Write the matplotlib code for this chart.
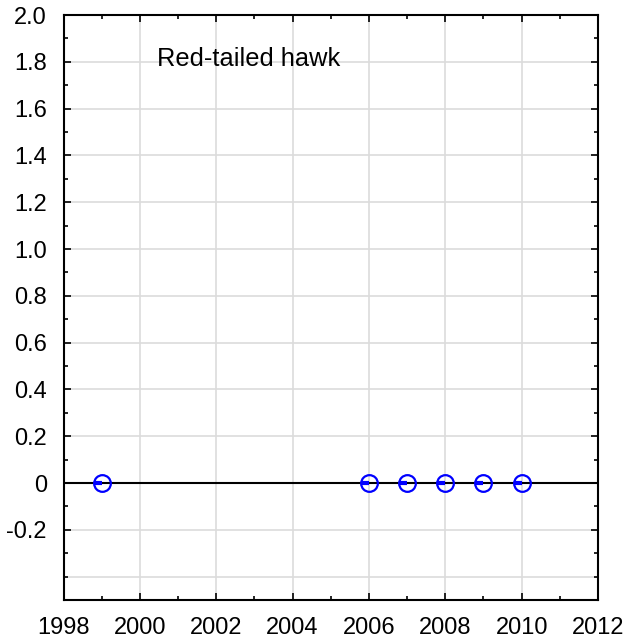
import matplotlib.pyplot as plt
from matplotlib.ticker import FixedLocator, MultipleLocator

plt.rcParams['font.family'] = ['Liberation Sans', 'DejaVu Sans']

years = [1999, 2006, 2007, 2008, 2009, 2010]
values = [0, 0, 0, 0, 0, 0]
species = 'Red-tailed hawk'

xticks = list(range(1998, 2013, 2))
yticks = [-0.2, 0, 0.2, 0.4, 0.6, 0.8, 1.0, 1.2, 1.4, 1.6, 1.8, 2.0]
ytick_labels = ['-0.2', '0', '0.2', '0.4', '0.6', '0.8', '1.0', '1.2', '1.4', '1.6', '1.8', '2.0']
ygrid = [-0.4, -0.2, 0.2, 0.4, 0.6, 0.8, 1.0, 1.2, 1.4, 1.6, 1.8]

fig = plt.figure(figsize=(6.31, 6.44), dpi=100)
ax = fig.add_axes([63.5 / 631, 44 / 644, 534.5 / 631, 585 / 644])

ax.set_xlim(1998, 2012)
ax.set_ylim(-0.5, 2.0)

# grid lines drawn by hand so -0.4 gets one but no label
for x in xticks[1:-1]:
    ax.axvline(x, color='#dcdcdc', lw=1.2, zorder=0)
for y in ygrid:
    ax.axhline(y, color='#dcdcdc', lw=1.2, zorder=0)
ax.axhline(0, color='black', lw=1.5, zorder=1)

ax.plot(years, values, linestyle='none', marker='o', markersize=12,
        markerfacecolor='none', markeredgecolor='#0000ff', markeredgewidth=1.6, zorder=3)
ax.plot(years, values, linestyle='none', marker=0, markersize=6,
        markeredgecolor='#0000ff', markeredgewidth=3, zorder=4)

ax.text(2000.45, 1.81, species, fontsize=18.3, ha='left', va='center')

ax.xaxis.set_major_locator(FixedLocator(xticks))
ax.xaxis.set_minor_locator(MultipleLocator(1))
ax.yaxis.set_major_locator(FixedLocator(yticks))
ax.set_yticklabels(ytick_labels)
ax.yaxis.set_minor_locator(MultipleLocator(0.1))
ax.tick_params(which='both', direction='in', top=True, right=True, labelsize=17, width=1.2)
ax.tick_params(which='major', length=5)
ax.tick_params(axis='x', which='major', pad=12)
ax.tick_params(axis='y', which='major', pad=12)
ax.tick_params(which='minor', length=3)
for s in ax.spines.values():
    s.set_linewidth(1.5)

fig.savefig('out.png', dpi=100)
